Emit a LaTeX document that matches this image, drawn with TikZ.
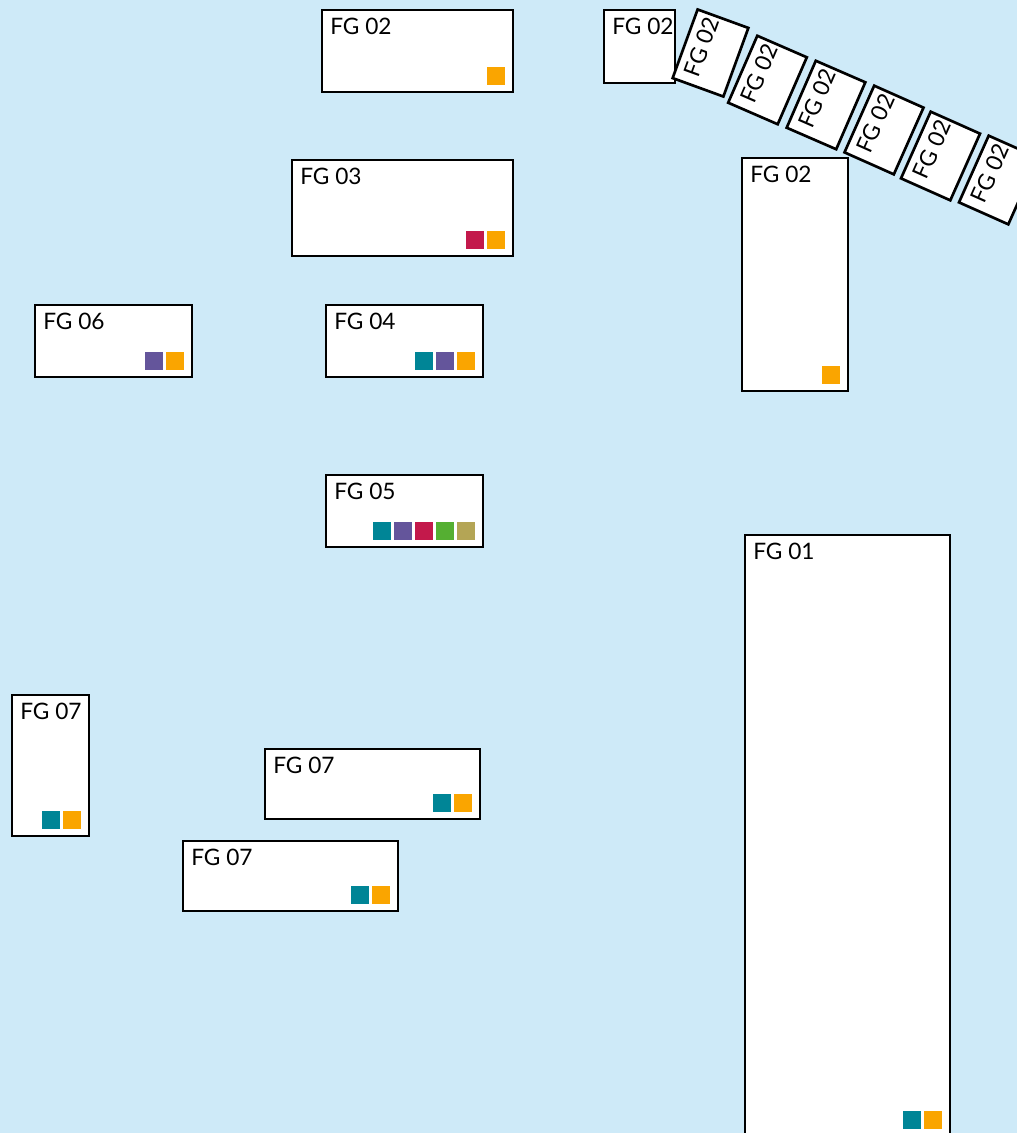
\documentclass[tikz,border=0pt]{standalone}
\usepackage{fontspec}
\setmainfont{Lato}
\usetikzlibrary{positioning}

\definecolor{bgblue}{RGB}{206,234,248}
\definecolor{mteal}{RGB}{0,133,150}
\definecolor{mpurple}{RGB}{100,85,155}
\definecolor{mcrimson}{RGB}{195,25,75}
\definecolor{mgreen}{RGB}{85,175,50}
\definecolor{molive}{RGB}{180,165,85}
\definecolor{morange}{RGB}{250,165,0}

% coloured marks, listed from right to left
\newcommand\fgmarks[2]{%
  \foreach \c [count=\k] in {#2}
    \fill[\c] ([shift={(-8-21*\k+21,-7)}]#1.south east) rectangle ++(-18,-18);}

\begin{document}
\begin{tikzpicture}[
    x=0.75pt, y=-0.75pt,
    fgbox/.style={draw=black, line width=2pt, fill=white, inner sep=0pt, outer sep=0pt},
    fgsize/.style 2 args={minimum width=#1*0.75pt, minimum height=#2*0.75pt},
    fglabel/.style={anchor=north west, inner xsep=6pt, inner ysep=6pt,
                    font=\fontsize{17}{20}\selectfont}
]

% --- Background ---
\fill[bgblue] (0,0) rectangle (1017,1133);
\useasboundingbox (0,0) rectangle (1017,1133);
\clip (0,0) rectangle (1017,1133);

% --- Left column of boxes ---
\node[fgbox, fgsize={191}{82}, anchor=north west] (fg02top) at (322,10) {};
\node[fgbox, fgsize={221}{96}, anchor=north west] (fg03) at (292,160) {};
\node[fgbox, fgsize={157}{72}, anchor=north west] (fg06) at (35,305) {};
\node[fgbox, fgsize={157}{72}, anchor=north west] (fg04) at (326,305) {};
\node[fgbox, fgsize={157}{72}, anchor=north west] (fg05) at (326,475) {};
\node[fgbox, fgsize={77}{141}, anchor=north west] (fg07a) at (12,695) {};
\node[fgbox, fgsize={215}{70}, anchor=north west] (fg07b) at (265,749) {};
\node[fgbox, fgsize={215}{70}, anchor=north west] (fg07c) at (183,841) {};

% --- Right column of boxes ---
\node[fgbox, fgsize={205}{601}, anchor=north west] (fg01) at (745,535) {};
\node[fgbox, fgsize={71}{73}, anchor=north west] (fg02s) at (604,10) {};

% --- Rotated row ---
\foreach \x/\y/\a [count=\i] in {710.5/53/70, 767.5/80/66.5, 826/105/66.5,
                                 884/130/66, 940.5/156/66, 998.5/180/66}
{
    \node[fgbox, fgsize={73}{54}, rotate=\a] (fgr\i) at (\x,\y) {};
    \node[fglabel, rotate=\a] (fgr\i t) at (fgr\i.north west) {FG 02};
}

\node[fgbox, fgsize={106}{233}, anchor=north west] (fg02tall) at (742,158) {};

% --- Labels ---
\foreach \b/\t in {fg02top/FG 02, fg03/FG 03, fg06/FG 06, fg04/FG 04,
                   fg05/FG 05, fg07a/FG 07, fg07b/FG 07, fg07c/FG 07,
                   fg01/FG 01, fg02s/FG 02, fg02tall/FG 02}
    \node[fglabel] (\b t) at (\b.north west) {\t};

% --- Marks ---
\fgmarks{fg02top}{morange}
\fgmarks{fg03}{morange, mcrimson}
\fgmarks{fg06}{morange, mpurple}
\fgmarks{fg04}{morange, mpurple, mteal}
\fgmarks{fg05}{molive, mgreen, mcrimson, mpurple, mteal}
\fgmarks{fg07a}{morange, mteal}
\fgmarks{fg07b}{morange, mteal}
\fgmarks{fg07c}{morange, mteal}
\fgmarks{fg01}{morange, mteal}
\fgmarks{fg02tall}{morange}

\end{tikzpicture}
\end{document}
